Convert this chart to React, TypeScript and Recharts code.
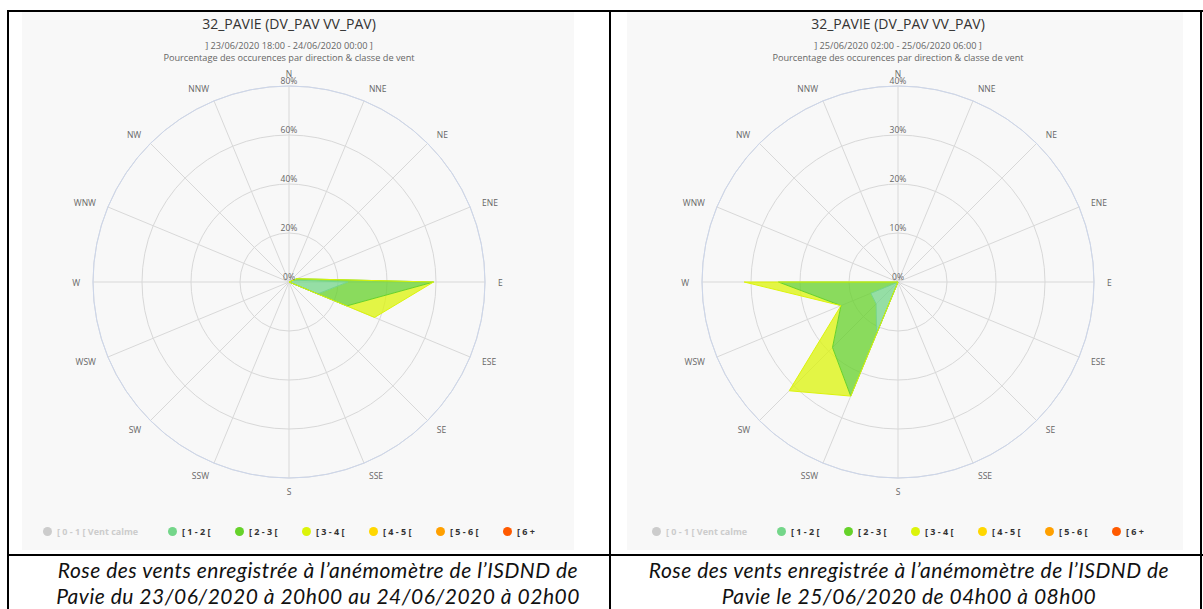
import { RadarChart, Radar, PolarGrid, PolarAngleAxis, PolarRadiusAxis } from "recharts";

const directions = ["N", "NNE", "NE", "ENE", "E", "ESE", "SE", "SSE", "S", "SSW", "SW", "WSW", "W", "WNW", "NW", "NNW"];

const classNames = ["[ 0 - 1 [ Vent calme", "[ 1 - 2 [", "[ 2 - 3 [", "[ 3 - 4 [", "[ 4 - 5 [", "[ 5 - 6 [", "[ 6 +"];
const classColors = ["#cccccc", "#74d68a", "#66d22a", "#dcf40a", "#ffd700", "#ffa000", "#ff5a00"];
const classHidden = [true, false, false, false, false, false, false];

// left rose : 23/06 18:00 -> 24/06 00:00 (percent per direction)
const left01 = [0, 0, 0, 0, 0, 0, 0, 0, 0, 0, 0, 0, 0, 0, 0, 0];
const left12 = [0, 0, 0, 2, 24, 12.7, 0, 0, 0, 0, 0, 0, 0, 0, 0, 0];
const left23 = [0, 0, 0, 1.5, 35, 12.8, 0, 0, 0, 0, 0, 0, 0, 0, 0, 0];
const left34 = [0, 0, 0, 0, 0, 12.3, 0, 0, 0, 0, 0, 0, 0, 0, 0, 0];
const left45 = [0, 0, 0, 0, 0, 0, 0, 0, 0, 0, 0, 0, 0, 0, 0, 0];
const left56 = [0, 0, 0, 0, 0, 0, 0, 0, 0, 0, 0, 0, 0, 0, 0, 0];
const left6p = [0, 0, 0, 0, 0, 0, 0, 0, 0, 0, 0, 0, 0, 0, 0, 0];
const leftTicks = [0, 20, 40, 60, 80];

// right rose : 25/06 02:00 -> 06:00
const right01 = [0, 0, 0, 0, 0, 0, 0, 0, 0, 0, 0, 0, 0, 0, 0, 0];
const right12 = [0, 0, 0, 0, 0, 0, 0, 0, 0, 11.4, 6.3, 6, 0, 0, 0, 0];
const right23 = [0, 0, 0, 0, 0, 0, 0, 0, 0, 13.8, 12.6, 6.6, 24.4, 0, 0, 0];
const right34 = [0, 0, 0, 0, 0, 0, 0, 0, 0, 0, 12.5, 0, 7, 0, 0, 0];
const right45 = [0, 0, 0, 0, 0, 0, 0, 0, 0, 0, 0, 0, 0, 0, 0, 0];
const right56 = [0, 0, 0, 0, 0, 0, 0, 0, 0, 0, 0, 0, 0, 0, 0, 0];
const right6p = [0, 0, 0, 0, 0, 0, 0, 0, 0, 0, 0, 0, 0, 0, 0, 0];
const rightTicks = [0, 10, 20, 30, 40];

const FONT = "'Open Sans', sans-serif";

function buildRows(series: number[][]) {
  return directions.map((dir, i) => {
    const row: any = { dir };
    let base = 0;
    series.forEach((vals, k) => {
      if (classHidden[k]) return;
      const top = base + vals[i];
      row[`r${k}`] = [base, top];
      row[`t${k}`] = top;
      base = top;
    });
    return row;
  });
}

const AngleTick = (props: any) => {
  const { x, y, payload, textAnchor } = props;
  return (
    <text x={x} y={y} textAnchor={textAnchor} dominantBaseline="central" fontSize={8.5} fill="#666" fontFamily={FONT}>
      {payload.value}
    </text>
  );
};

const RadiusTick = (props: any) => {
  const { x, y, payload } = props;
  return (
    <text x={x} y={y - 2} textAnchor="middle" fontSize={8.5} fill="#666" fontFamily={FONT}>
      {payload.value}%
    </text>
  );
};

type RoseProps = {
  left: number;
  width: number;
  cx: number;
  period: string;
  series: number[][];
  ticks: number[];
};

function WindRose({ left, width, cx, period, series, ticks }: RoseProps) {
  const rows = buildRows(series);
  const cy = 270;
  const shown = series.map((vals, k) => !classHidden[k] && vals.some((v) => v > 0));
  return (
    <div style={{ position: "absolute", left, top: 12, width, height: 538, background: "#f8f8f8", fontFamily: FONT }}>
      <div style={{ position: "absolute", left: cx - 200, width: 400, top: 2, textAlign: "center", fontSize: 14, color: "#333" }}>
        32_PAVIE (DV_PAV VV_PAV)
      </div>
      <div style={{ position: "absolute", left: cx - 200, width: 400, top: 28, textAlign: "center", fontSize: 9.2, lineHeight: "12px", color: "#666" }}>
        {period}
        <br />
        Pourcentage des occurences par direction &amp; classe de vent
      </div>
      <RadarChart width={width} height={538} data={rows} cx={cx} cy={cy} outerRadius={196} margin={{ top: 0, right: 0, bottom: 0, left: 0 }}>
        <PolarGrid gridType="circle" stroke="#d8d8d8" />
        <PolarAngleAxis
          dataKey="dir"
          tick={<AngleTick />}
          tickSize={13}
          tickLine={false}
          axisLineType="circle"
          axisLine={{ stroke: "#ccd6eb" }}
        />
        <PolarRadiusAxis
          angle={90}
          domain={[0, ticks[ticks.length - 1]]}
          ticks={ticks as any}
          tickCount={ticks.length}
          axisLine={false}
          tickLine={false}
          tick={<RadiusTick />}
        />
        {series.map((_, k) =>
          shown[k] ? (
            <Radar
              key={`f${k}`}
              name={classNames[k]}
              dataKey={`r${k}`}
              fill={classColors[k]}
              fillOpacity={0.75}
              stroke="none"
              isAnimationActive={false}
            />
          ) : null
        )}
        {series.map((_, k) =>
          shown[k] ? (
            <Radar
              key={`l${k}`}
              dataKey={`t${k}`}
              fill="none"
              stroke={classColors[k]}
              strokeWidth={1}
              isAnimationActive={false}
              legendType="none"
            />
          ) : null
        )}
      </RadarChart>
      <div
        style={{
          position: "absolute",
          left: cx - 300,
          width: 600,
          top: 513,
          display: "flex",
          justifyContent: "center",
          fontSize: 9,
          fontWeight: "bold",
          alignItems: "center",
          whiteSpace: "pre",
        }}
      >
        {classNames.map((name, k) => (
          <div
            key={name}
            style={{
              display: "flex",
              alignItems: "center",
              gap: 5,
              width: k === 0 ? 125 : k === classNames.length - 1 ? undefined : 67,
              color: classHidden[k] ? "#cccccc" : "#333",
            }}
          >
            <span style={{ width: 9, height: 9, borderRadius: "50%", background: classHidden[k] ? "#cccccc" : classColors[k], display: "inline-block" }} />
            <span>{name}</span>
          </div>
        ))}
      </div>
    </div>
  );
}

const line = (style: any) => <div style={{ position: "absolute", background: "#000", ...style }} />;

const captionStyle: any = {
  position: "absolute",
  top: 557,
  textAlign: "center",
  fontFamily: "Lato, sans-serif",
  fontStyle: "italic",
  fontSize: 21,
  letterSpacing: 0.5,
  lineHeight: "26px",
  color: "#111",
  whiteSpace: "nowrap",
};

export default function App() {
  return (
    <div style={{ position: "absolute", left: 0, top: 0, width: 1203, height: 609, background: "#fff", overflow: "hidden" }}>
      <WindRose
        left={22}
        width={552}
        cx={267}
        period="] 23/06/2020 18:00 - 24/06/2020 00:00 ]"
        series={[left01, left12, left23, left34, left45, left56, left6p]}
        ticks={leftTicks}
      />
      <WindRose
        left={627}
        width={556}
        cx={271}
        period="] 25/06/2020 02:00 - 25/06/2020 06:00 ]"
        series={[right01, right12, right23, right34, right45, right56, right6p]}
        ticks={rightTicks}
      />
      {line({ left: 7, top: 10, width: 1196, height: 1.5 })}
      {line({ left: 7, top: 10, width: 1.5, height: 599 })}
      {line({ left: 609, top: 10, width: 1.5, height: 599 })}
      {line({ left: 1200, top: 10, width: 1.5, height: 599 })}
      {line({ left: 7, top: 554, width: 1196, height: 1.5 })}
      <div style={{ ...captionStyle, left: 18, width: 600 }}>
        Rose des vents enregistrée à l’anémomètre de l’ISDND de
        <br />
        Pavie du 23/06/2020 à 20h00 au 24/06/2020 à 02h00
      </div>
      <div style={{ ...captionStyle, left: 614, width: 590 }}>
        Rose des vents enregistrée à l’anémomètre de l’ISDND de
        <br />
        Pavie le 25/06/2020 de 04h00 à 08h00
      </div>
    </div>
  );
}
